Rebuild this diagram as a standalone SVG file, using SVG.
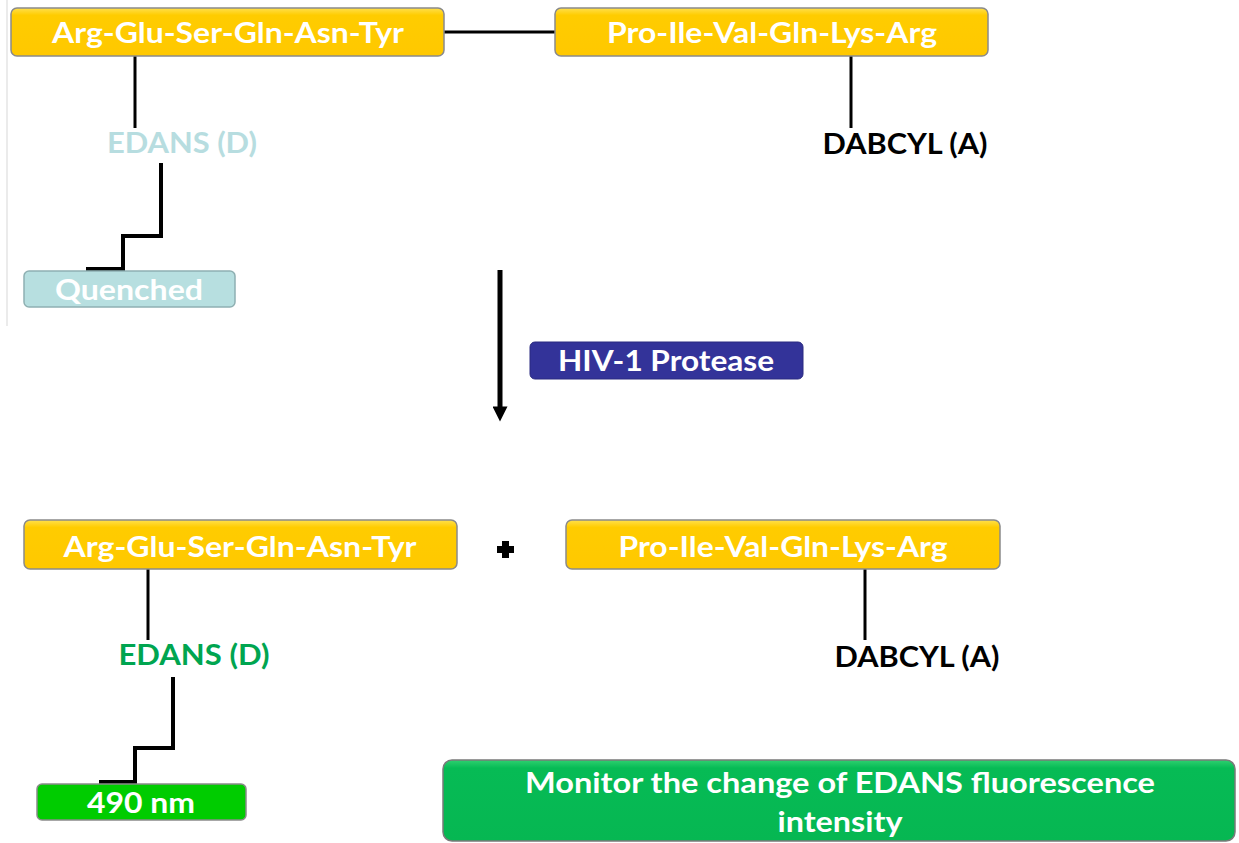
<svg xmlns="http://www.w3.org/2000/svg" width="1239" height="843" viewBox="0 0 1239 843">
  <style>
    .lbl { font-family: Lato, "Open Sans", "Liberation Sans", sans-serif; font-weight: bold; font-size: 29px; text-anchor: middle; }
    .white { fill: #ffffff; }
    .pep { fill: url(#gold); stroke: #8a8a8a; stroke-width: 1.5; }
    .wire { fill: none; stroke: #000000; stroke-width: 3; }
    .step { fill: none; stroke: #000000; stroke-width: 4; }
  </style>
  <defs>
    <linearGradient id="gold" x1="0" y1="0" x2="0" y2="1">
      <stop offset="0" stop-color="#ffe04d"/>
      <stop offset="0.15" stop-color="#ffcc00"/>
      <stop offset="1" stop-color="#ffc800"/>
    </linearGradient>
    <linearGradient id="green" x1="0" y1="0" x2="0" y2="1">
      <stop offset="0" stop-color="#2fd070"/>
      <stop offset="0.1" stop-color="#06bb55"/>
      <stop offset="1" stop-color="#06b752"/>
    </linearGradient>
    <marker id="head" viewBox="0 0 10 10" refX="5" refY="5" markerWidth="4" markerHeight="3" markerUnits="strokeWidth" orient="auto">
      <path d="M0,0 L10,5 L0,10 Z" fill="#000"/>
    </marker>
  </defs>

  <rect width="1239" height="843" fill="#ffffff"/>
  <!-- faint frame edge on the left of the upper panel -->
  <line x1="7" y1="0" x2="7" y2="326" stroke="#e4e4e4" stroke-width="1.5"/>

  <g id="connectors">
    <line class="wire" x1="444" y1="32" x2="556" y2="32"/>
    <line class="wire" x1="135" y1="56" x2="135" y2="128"/>
    <polyline class="step" points="161,163 161,236 123,236 123,269 86,269"/>
    <line class="wire" x1="851" y1="56" x2="851" y2="128"/>
    <line x1="500" y1="270" x2="500" y2="414" stroke="#000" stroke-width="5" marker-end="url(#head)"/>
    <line class="wire" x1="148" y1="569" x2="148" y2="640"/>
    <polyline class="step" points="173,677 173,748 135,748 135,782 99,782"/>
    <line class="wire" x1="865" y1="569" x2="865" y2="640"/>
  </g>

  <g id="peptide-n-intact">
    <rect class="pep" x="11" y="8" width="433" height="48" rx="6"/>
    <text class="lbl white" x="228" y="43" textLength="352" lengthAdjust="spacingAndGlyphs">Arg-Glu-Ser-Gln-Asn-Tyr</text>
  </g>
  <g id="peptide-c-intact">
    <rect class="pep" x="555" y="8" width="433" height="48" rx="6"/>
    <text class="lbl white" x="772" y="43" textLength="330" lengthAdjust="spacingAndGlyphs">Pro-Ile-Val-Gln-Lys-Arg</text>
  </g>
  <g id="edans-quenched">
    <text class="lbl" x="182" y="153" fill="#b7dde0" textLength="150" lengthAdjust="spacingAndGlyphs">EDANS (D)</text>
  </g>
  <g id="dabcyl-intact">
    <text class="lbl" x="905" y="154" fill="#000" textLength="165" lengthAdjust="spacingAndGlyphs">DABCYL (A)</text>
  </g>
  <g id="quenched">
    <rect x="24" y="271" width="211" height="36" rx="5" fill="#b7dfe0" stroke="#8fb0b2" stroke-width="1.5"/>
    <text class="lbl white" x="129" y="300" textLength="148" lengthAdjust="spacingAndGlyphs">Quenched</text>
  </g>
  <g id="protease">
    <rect x="530" y="342" width="273" height="37" rx="5" fill="#333399" stroke="#2a2a80" stroke-width="1"/>
    <text class="lbl white" x="666" y="371" textLength="216" lengthAdjust="spacingAndGlyphs">HIV-1 Protease</text>
  </g>

  <g id="peptide-n-cleaved">
    <rect class="pep" x="24" y="520" width="433" height="49" rx="6"/>
    <text class="lbl white" x="240" y="557" textLength="353" lengthAdjust="spacingAndGlyphs">Arg-Glu-Ser-Gln-Asn-Tyr</text>
  </g>
  <g id="plus">
    <path d="M502,541 h7 v5 h5 v7 h-5 v5 h-7 v-5 h-5 v-7 h5 Z" fill="#000"/>
  </g>
  <g id="peptide-c-cleaved">
    <rect class="pep" x="566" y="520" width="434" height="49" rx="6"/>
    <text class="lbl white" x="783" y="557" textLength="329" lengthAdjust="spacingAndGlyphs">Pro-Ile-Val-Gln-Lys-Arg</text>
  </g>
  <g id="edans-free">
    <text class="lbl" x="194" y="665" fill="#00a550" textLength="151" lengthAdjust="spacingAndGlyphs">EDANS (D)</text>
  </g>
  <g id="dabcyl-free">
    <text class="lbl" x="917" y="667" fill="#000" textLength="165" lengthAdjust="spacingAndGlyphs">DABCYL (A)</text>
  </g>
  <g id="emission">
    <rect x="37" y="784" width="209" height="36" rx="5" fill="#00cc00" stroke="#8a8a8a" stroke-width="1.5"/>
    <text class="lbl white" x="141" y="813" textLength="108" lengthAdjust="spacingAndGlyphs">490 nm</text>
  </g>
  <g id="readout">
    <rect x="443" y="760" width="792" height="81" rx="9" fill="url(#green)" stroke="#7a7a7a" stroke-width="1.5"/>
    <text class="lbl white" x="840" y="793" textLength="630" lengthAdjust="spacingAndGlyphs">Monitor the change of EDANS fluorescence</text>
    <text class="lbl white" x="840" y="832" textLength="125" lengthAdjust="spacingAndGlyphs">intensity</text>
  </g>
</svg>
